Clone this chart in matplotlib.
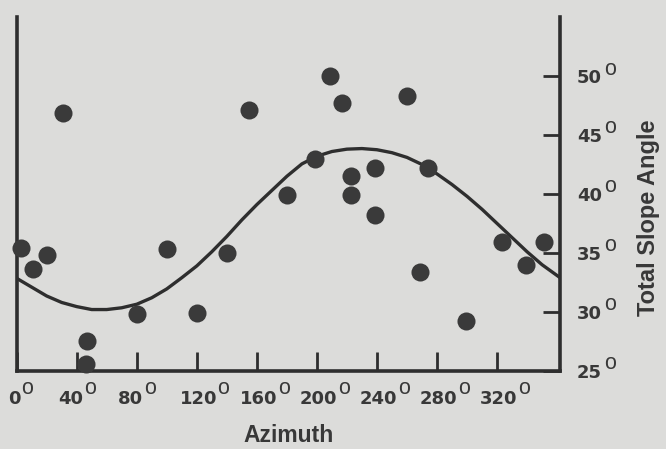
import numpy as np
import matplotlib
matplotlib.use('Agg')
import matplotlib.pyplot as plt
from matplotlib.transforms import offset_copy

# measured points (azimuth deg, total slope angle deg)
azimuth = [3, 11, 20, 31, 47, 46, 80, 100, 120, 140, 155, 180, 199,
           209, 217, 223, 223, 239, 239, 260, 269, 274, 299, 323, 339, 351]
slope = [35.4, 33.6, 34.8, 46.9, 27.5, 25.6, 29.8, 35.3, 29.9, 35.0, 47.1, 39.9, 43.0,
         50.0, 47.7, 41.5, 39.9, 42.2, 38.2, 48.3, 33.4, 42.2, 29.2, 35.9, 34.0, 35.9]

# fitted curve
curve_az = [0, 10, 20, 30, 40, 50, 60, 70, 80, 90, 100, 110, 120, 130, 140, 150,
            160, 170, 180, 190, 200, 210, 220, 230, 240, 250, 260, 270, 280, 290,
            300, 310, 320, 330, 340, 350, 362]
curve_val = [32.85, 32.1, 31.35, 30.8, 30.45, 30.2, 30.2, 30.35, 30.65, 31.2, 31.95,
             32.9, 33.9, 35.1, 36.4, 37.8, 39.1, 40.3, 41.5, 42.55, 43.2, 43.6, 43.8,
             43.85, 43.75, 43.5, 43.1, 42.5, 41.7, 40.8, 39.8, 38.7, 37.5, 36.3, 35.1,
             34.0, 32.9]

xticks = [0, 40, 80, 120, 160, 200, 240, 280, 320]
yticks = [25, 30, 35, 40, 45, 50]

plt.rcParams['font.family'] = ['Liberation Sans', 'DejaVu Sans']

bg = '#dcdcda'
ink = '#2e2e2e'
txt = '#383838'

fig = plt.figure(figsize=(6.66, 4.49), dpi=100, facecolor=bg)
ax = fig.add_axes([0.025, 0.174, 0.816, 0.788])
ax.set_facecolor(bg)

ax.plot(curve_az, curve_val, color=ink, lw=2.4, solid_capstyle='butt', zorder=2)
ax.plot(azimuth, slope, 'o', color='#3a3a3a', markersize=13, markeredgewidth=0,
        clip_on=False, zorder=3)

ax.set_xlim(0, 362)
ax.set_ylim(25, 55)

for s in ['left', 'bottom', 'right']:
    ax.spines[s].set_linewidth(2.6)
    ax.spines[s].set_color(ink)
ax.spines['top'].set_visible(False)

ax.set_xticks(xticks)
ax.set_yticks(yticks)
ax.yaxis.tick_right()
ax.tick_params(axis='x', direction='in', length=14, width=2, color=ink, labelbottom=False)
ax.tick_params(axis='y', direction='in', length=12.5, width=2, color=ink, labelright=False)

# tick labels drawn by hand: bold digits plus a thin raised ring for the degree sign
dig = dict(family='DejaVu Sans', weight='bold', size=13, color=txt)
ring = dict(family='Liberation Sans', size=15.5, color=txt)
digit_w = 12.5  # px per digit
shift = {1: -2, 2: -6, 3: 1.5}  # hand-lettered labels sit a little off-centre

xtr = ax.get_xaxis_transform()
for t in xticks:
    s = str(t)
    dx = shift[len(s)]
    ax.text(t, 0, s, ha='center', va='baseline', fontdict=dig, clip_on=False,
            transform=offset_copy(xtr, fig=fig, x=dx, y=-33, units='dots'))
    ax.text(t, 0, 'o', ha='center', va='baseline', fontdict=ring, clip_on=False,
            transform=offset_copy(xtr, fig=fig, x=dx + len(s) * digit_w / 2 + 6.5,
                                  y=-23, units='dots'))

ytr = ax.get_yaxis_transform()
for t in yticks:
    ax.text(1, t, str(t), ha='left', va='baseline', fontdict=dig, clip_on=False,
            transform=offset_copy(ytr, fig=fig, x=17, y=-7, units='dots'))
    ax.text(1, t, 'o', ha='center', va='baseline', fontdict=ring, clip_on=False,
            transform=offset_copy(ytr, fig=fig, x=49.5, y=1.5, units='dots'))

fig.text(288.5 / 666, 7 / 449, 'Azimuth', ha='center', va='baseline',
         fontsize=16.5, fontweight='bold', color=txt)
fig.text(649 / 666, 1 - 217.5 / 449, 'Total Slope Angle', rotation=90,
         ha='center', va='center', fontsize=17, fontweight='bold', color=txt)

fig.savefig('out.png', dpi=100, facecolor=bg)
